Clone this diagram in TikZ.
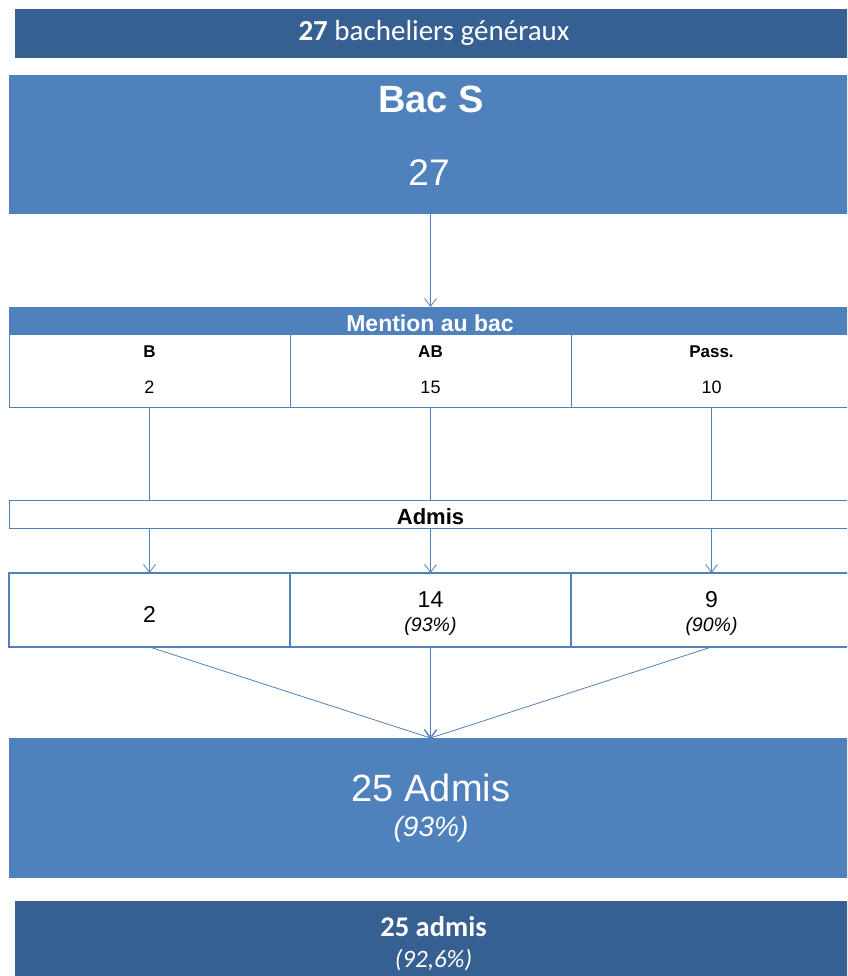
\documentclass[tikz,border=0pt]{standalone}
\usepackage{fontspec}
\setmainfont{Liberation Sans}
\newfontfamily\calibri{Carlito}
\usetikzlibrary{arrows.meta}
\definecolor{darkband}{HTML}{376092}
\definecolor{midblue}{HTML}{4F81BD}
\tikzset{>={Straight Barb[length=8pt,width=12pt]}}
\tikzset{
  box/.style={anchor=north west,inner sep=0pt,outer sep=0pt},
  band/.style={box,fill=darkband,minimum width=838pt},
  bluebox/.style={box,fill=midblue,minimum width=843pt},
  cell/.style={box,fill=white,draw=midblue,line width=1pt,minimum width=281pt},
  thickcell/.style={cell,line width=2.5pt},
  txt/.style={anchor=base,inner sep=0pt},
  link/.style={draw=midblue,line width=0.8pt}
}

\begin{document}
\begin{tikzpicture}[x=1pt,y=-1pt]
    \clip (0,0) rectangle (847,976);
    % boxes
    \node[band,minimum height=49pt] (haut) at (15,9) {};
    \node[bluebox,minimum height=139pt] (bacs) at (9,75) {};
    \node[bluebox,minimum height=27pt] (mention) at (9,307) {};
    \node[cell,minimum height=73pt] (mb) at (9,334) {};
    \node[cell,minimum height=73pt] (mab) at (290,334) {};
    \node[cell,minimum height=73pt] (mp) at (571,334) {};
    \node[cell,minimum width=843pt,minimum height=28pt] (admis) at (9,500) {};
    \node[thickcell,minimum height=74pt] (ab) at (9,573) {};
    \node[thickcell,minimum height=74pt] (aab) at (290,573) {};
    \node[thickcell,minimum height=74pt] (ap) at (571,573) {};
    \node[bluebox,minimum height=140pt] (total) at (9,738) {};
    \node[band,minimum height=80pt] (bas) at (15,901) {};
    % texts
    \node[txt,text=white] (t1) at (434,41) {\calibri\fontsize{29}{31}\selectfont\textbf{27} bacheliers généraux};
    \node[txt,text=white] (t2) at (431,113) {\fontsize{38}{40}\selectfont\bfseries Bac S};
    \node[txt,text=white] (t3) at (429,186) {\fontsize{37}{40}\selectfont 27};
    \node[txt,text=white] (t4) at (430,331) {\fontsize{23}{25}\selectfont\bfseries Mention au bac};
    \node[txt] (t5) at (149.5,357) {\fontsize{17}{19}\selectfont\bfseries B};
    \node[txt] (t6) at (430.5,357) {\fontsize{17}{19}\selectfont\bfseries AB};
    \node[txt] (t7) at (711.5,357) {\fontsize{17}{19}\selectfont\bfseries Pass.};
    \node[txt] (t8) at (149.5,393) {\fontsize{18}{20}\selectfont 2};
    \node[txt] (t9) at (430.5,393) {\fontsize{18}{20}\selectfont 15};
    \node[txt] (t10) at (711.5,393) {\fontsize{18}{20}\selectfont 10};
    \node[txt] (t11) at (430.5,524) {\fontsize{22}{24}\selectfont\bfseries Admis};
    \node[txt] (t12) at (149.5,622) {\fontsize{23}{25}\selectfont 2};
    \node[txt] (t13) at (430.5,607) {\fontsize{23}{25}\selectfont 14};
    \node[txt] (t14) at (430.5,631) {\fontsize{19.5}{21}\selectfont\itshape (93\%)};
    \node[txt] (t15) at (711.5,607) {\fontsize{23}{25}\selectfont 9};
    \node[txt] (t16) at (711.5,631) {\fontsize{19.5}{21}\selectfont\itshape (90\%)};
    \node[txt,text=white] (t17) at (431,801) {\fontsize{38}{40}\selectfont 25 Admis};
    \node[txt,text=white] (t18) at (431,836) {\fontsize{28}{30}\selectfont\itshape (93\%)};
    \node[txt,text=white] (t19) at (433.5,936) {\calibri\fontsize{28.5}{30}\selectfont\bfseries 25 admis};
    \node[txt,text=white] (t20) at (433.5,967) {\calibri\fontsize{25}{27}\selectfont\itshape (92,6\%)};
    % connectors
    \draw[link,->] (bacs.south) -- (mention.north);
    \foreach \c/\d in {mb/ab,mab/aab,mp/ap}{
        \draw[link] (\c.south) -- (\c.south |- admis.north);
        \draw[link,->] (\c.south |- admis.south) -- (\d.north);
        \draw[link,->] (\d.south) -- (total.north);
    }
\end{tikzpicture}
\end{document}
